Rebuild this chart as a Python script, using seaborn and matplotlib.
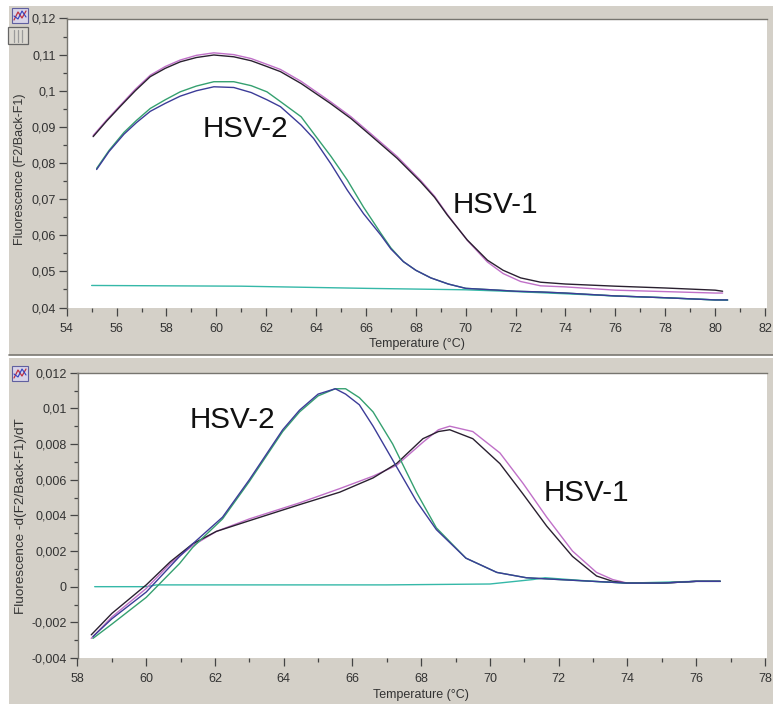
import matplotlib
matplotlib.use("Agg")
import matplotlib.pyplot as plt
from matplotlib.patches import Rectangle
from matplotlib.lines import Line2D
import seaborn as sns
import pandas as pd

W, H = 773, 706
GRAY = "#D4D0C8"

# Melting curves (top panel)
hsv1_x = [55.06, 55.6, 56.14, 56.75, 57.35, 57.95, 58.55, 59.2, 59.9, 60.7, 61.4, 62.03, 62.57, 63.4, 64.57, 65.4, 66.18, 67.25, 68.19, 68.75, 69.26, 70.06, 70.87, 71.5, 72.2, 73, 74, 76, 78, 80, 80.3]
hsv1_black = [.0873, .0916, .0956, .1000, .1039, .1062, .108, .1092, .1099, .1094, .1083, .1067, .1053, .102, .0965, .0923, .0877, .0813, .0748, .0705, .0656, .0587, .0531, .0503, .0482, .0470, .0465, .0459, .0454, .0448, .0445]
hsv1_pink = [.0876, .0919, .0959, .1004, .1043, .1067, .1085, .1098, .1105, .11, .1089, .1073, .1059, .1026, .097, .0928, .0882, .0818, .0752, .0708, .0658, .0586, .0526, .0494, .0472, .046, .0457, .0448, .0444, .044, .044]
hsv2_x = [55.2, 55.7, 56.3, 56.8, 57.35, 57.95, 58.55, 59.2, 59.9, 60.7, 61.4, 62.03, 62.57, 63.4, 63.9, 64.6, 65.25, 65.9, 66.6, 67, 67.5, 68, 68.6, 69.3, 70, 71.3, 72, 73, 74, 76, 78, 80, 80.5]
hsv2_green = [.0785, .0835, .0885, .0918, .0951, .0975, .0997, .1013, .1025, .1025, .1014, .0997, .097, .0928, .0882, .0818, .0753, .0678, .0605, .0565, .0527, .0503, .0482, .0465, .0453, .0448, .0445, .0443, .044, .0432, .0427, .0421, .0421]
hsv2_blue = [.0782, .0832, .088, .0912, .0943, .0965, .0985, .1, .1011, .1009, .0995, .0975, .0956, .0905, .0868, .0797, .0725, .0660, .0600, .0562, .0527, .0503, .0482, .0465, .0453, .0448, .0445, .0443, .044, .0432, .0427, .0421, .0421]
ctrl_top_x = [55, 61, 66, 70, 72, 74, 76, 78, 80, 80.5]
ctrl_top = [.0461, .0459, .0453, .0449, .0444, .0438, .0432, .0427, .0421, .042]

# Derivative curves (bottom panel)
dv1_x = [58.4, 59, 60, 60.7, 61.35, 62.04, 63, 64.46, 65.63, 66.6, 67.28, 68.05, 68.5, 68.83, 69.5, 70.29, 70.96, 71.65, 72.4, 73.1, 73.57, 74, 75, 76, 76.7]
dv1_black = [-.0027, -.0015, .0001, .0014, .0024, .0031, .0037, .0046, .0053, .0061, .0069, .0083, .0087, .0088, .0083, .0069, .0052, .0034, .0017, .0006, .0003, .0002, .0002, .0003, .0003]
dv1_pink = [-.0029, -.0017, -.0001, .0013, .0023, .0031, .0038, .0047, .0055, .0062, .0068, .0081, .0088, .009, .0087, .0075, .0058, .0039, .002, .0008, .0004, .0002, .0002, .0003, .0003]
dv2_x = [58.45, 59, 60, 60.97, 61.35, 62.22, 63, 63.97, 64.46, 65, 65.5, 65.8, 66.2, 66.6, 67.17, 67.86, 68.44, 69.3, 70.2, 71.06, 72, 73, 74, 75, 76, 76.7]
dv2_green = [-.0029, -.0021, -.0006, .0013, .0022, .0038, .0059, .0087, .0098, .0107, .0111, .0111, .0106, .0098, .0080, .0053, .0033, .0016, .0008, .0005, .0004, .0003, .0002, .0002, .0003, .0003]
dv2_blue = [-.0028, -.0018, -.0003, .0017, .0024, .0039, .006, .0088, .0099, .0108, .0111, .0108, .0102, .009, .0071, .0048, .0032, .0016, .0008, .0005, .0004, .0003, .0002, .0002, .0003, .0003]
ctrl_bot_x = [58.5, 60, 60.3, 63, 65, 67, 70, 71.25, 71.6, 73, 74, 76, 76.7]
ctrl_bot = [0, 0, .0001, .0001, .0001, .0001, .00015, .0004, .0005, .0003, .0002, .0003, .0003]

top_xticks = list(range(54, 84, 2))
bot_xticks = list(range(58, 80, 2))
top_yticks = [.04, .05, .06, .07, .08, .09, .1, .11, .12]
top_ylabels = ["0,04", "0,05", "0,06", "0,07", "0,08", "0,09", "0,1", "0,11", "0,12"]
bot_yticks = [-.004, -.002, 0, .002, .004, .006, .008, .01, .012]
bot_ylabels = ["-0,004", "-0,002", "0", "0,002", "0,004", "0,006", "0,008", "0,01", "0,012"]

LINE = {"black": "#2a2030", "pink": "#c070c8", "green": "#35a070", "blue": "#3c3c98", "teal": "#35b8a8"}

sns.set_theme(style="white")
plt.rcParams["font.family"] = ["Liberation Sans", "DejaVu Sans"]

fig = plt.figure(figsize=(W / 100, H / 100), dpi=100, facecolor="white")


def fx(p):
    return p / W


def fy(p):
    return 1 - p / H


def panel(l, t, r, b):
    return fig.add_axes([fx(l), fy(b), (r - l) / W, (b - t) / H])


# window chrome
fig.add_artist(Rectangle((fx(9), fy(355)), 1 - fx(9), (355 - 6) / H, transform=fig.transFigure, fc=GRAY, ec="none", zorder=-5))
fig.add_artist(Rectangle((fx(9), fy(704)), 1 - fx(9), (704 - 358) / H, transform=fig.transFigure, fc=GRAY, ec="none", zorder=-5))
fig.add_artist(Line2D([fx(9), 1], [fy(355.3)] * 2, transform=fig.transFigure, color="#7a7872", lw=1.2, zorder=-4))


def draw(ax, series, xlim, ylim, xticks, yticks, ylabels, xminor, yminor, ylabel, ylabel_size, texts):
    for xs, ys, c in series:
        sns.lineplot(data=pd.DataFrame({"x": xs, "y": ys}), x="x", y="y", ax=ax, color=LINE[c],
                     lw=1.0, errorbar=None, estimator=None, sort=False)
    ax.set_xlim(*xlim)
    ax.set_ylim(*ylim)
    ax.set_facecolor("white")
    ax.set_xticks(xticks)
    ax.set_xticklabels([str(t) for t in xticks])
    ax.set_yticks(yticks)
    ax.set_yticklabels(ylabels)
    ax.set_xticks(xminor, minor=True)
    ax.set_yticks(yminor, minor=True)
    ax.tick_params(axis="both", which="major", length=6, width=0.9, color="#444444", labelcolor="#333333",
                   labelsize=9, bottom=True, left=True)
    ax.tick_params(axis="x", which="major", pad=5)
    ax.tick_params(axis="y", which="major", pad=2)
    ax.tick_params(axis="both", which="minor", length=3.2, width=0.9, color="#444444", bottom=True, left=True)
    ax.set_xlabel("Temperature (°C)", fontsize=9, color="#333333", labelpad=-1)
    ax.set_ylabel(ylabel, fontsize=ylabel_size, color="#333333")
    for s in ("right", "bottom"):
        ax.spines[s].set_visible(False)
    for s in ("top", "left"):
        ax.spines[s].set_color("#77756f")
        ax.spines[s].set_linewidth(1.0)
    for x, y, t in texts:
        ax.text(x, y, t, fontsize=21.3, color="#111111", ha="left", va="center")


ax1 = panel(66.7, 18.5, 767, 307.5)
draw(ax1,
     [(ctrl_top_x, ctrl_top, "teal"), (hsv1_x, hsv1_pink, "pink"), (hsv1_x, hsv1_black, "black"),
      (hsv2_x, hsv2_green, "green"), (hsv2_x, hsv2_blue, "blue")],
     (54, 82.08), (.04, .12), top_xticks, top_yticks, top_ylabels,
     list(range(55, 83, 2)), [.045, .055, .065, .075, .085, .095, .105, .115],
     "Fluorescence (F2/Back-F1)", 9,
     [(59.47, .0893, "HSV-2"), (69.49, .0685, "HSV-1")])
ax1.yaxis.set_label_coords((26 - 66.7) / 700.3, .479)
ax1.xaxis.set_label_coords((417 - 66.7) / 700.3, -.106)

ax2 = panel(77.5, 372.7, 767, 658)
draw(ax2,
     [(ctrl_bot_x, ctrl_bot, "teal"), (dv1_x, dv1_pink, "pink"), (dv1_x, dv1_black, "black"),
      (dv2_x, dv2_green, "green"), (dv2_x, dv2_blue, "blue")],
     (58, 78.06), (-.004, .012), bot_xticks, bot_yticks, bot_ylabels,
     list(range(59, 79, 2)), [-.003, -.001, .001, .003, .005, .007, .009, .011],
     "Fluorescence -d(F2/Back-F1)/dT", 9.7,
     [(61.26, .00934, "HSV-2"), (71.57, .00526, "HSV-1")])
ax2.yaxis.set_label_coords((27 - 77.5) / 689.5, .498)
ax2.xaxis.set_label_coords((421 - 77.5) / 689.5, -.107)

# small toolbar icons
for (l, t) in [(12, 8), (12, 366)]:
    fig.add_artist(Rectangle((fx(l), fy(t + 15)), 16 / W, 15 / H, transform=fig.transFigure, fc="#d8d4e8", ec="#6060a0", lw=0.8, zorder=5))
    fig.add_artist(Line2D([fx(l + 2), fx(l + 6), fx(l + 10), fx(l + 14)], [fy(t + 12), fy(t + 4), fy(t + 10), fy(t + 3)],
                          transform=fig.transFigure, color="#c03040", lw=0.9, zorder=6))
    fig.add_artist(Line2D([fx(l + 2), fx(l + 6), fx(l + 10), fx(l + 14)], [fy(t + 8), fy(t + 11), fy(t + 3), fy(t + 9)],
                          transform=fig.transFigure, color="#3040c0", lw=0.8, zorder=6))
fig.add_artist(Rectangle((fx(8), fy(44)), 20 / W, 17 / H, transform=fig.transFigure, fc="#dcd9d2", ec="#666666", lw=0.9, zorder=5))
for p in (14, 18, 22):
    fig.add_artist(Line2D([fx(p)] * 2, [fy(30), fy(42)], transform=fig.transFigure, color="#9a9a9a", lw=0.9, zorder=6))

fig.savefig("out.png", dpi=100, facecolor="white")
